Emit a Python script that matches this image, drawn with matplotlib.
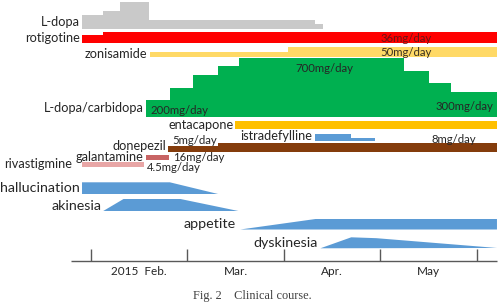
import numpy as np
import matplotlib.pyplot as plt

# time in months counted from 1 Feb 2015
months = ["2015  Feb.", "Mar.", "Apr.", "May"]
month_ticks = [0, 1, 2, 3, 4]
t_end = 4.21

# drugs: segment starts (months), doses per segment
ldopa_t = [-0.09, 0.13, 0.30, 0.60, 2.32, 2.41]
ldopa_dose = [300, 400, 600, 200, 100]

rotig_t = [-0.09, 0.13, t_end]
rotig_dose = [27, 36]

zonis_t = [0.61, 2.04, t_end]
zonis_dose = [25, 50]

ldc_t = [0.57, 0.82, 1.06, 1.32, 1.54, 3.25, 3.51, 3.73, t_end]
ldc_dose = [200, 350, 500, 600, 700, 550, 400, 300]

entac_t = [1.50, t_end]
entac_dose = [200]

istra_t = [2.32, 2.70, 2.95]
istra_dose = [40, 20]

donep_t = [0.80, 1.32, t_end]
donep_dose = [5, 8]

galan_t = [0.57, 0.81]
galan_dose = [16]

rivas_t = [-0.09, 0.55]
rivas_dose = [4.5]

# symptoms: (month, relative severity)
halluc = [(-0.09, 0), (-0.09, 1), (0.82, 1), (1.32, 0)]
akines = [(0.13, 0), (0.34, 1), (0.93, 1), (1.53, 0)]
appet = [(1.55, 0), (2.33, 1), (t_end, 1), (t_end, 0)]
dyskin = [(2.38, 0), (2.70, 1), (2.96, 0.92), (t_end, 0.03)]

FS = 9.2
FS_DOSE = 8.2
FS_SYM = 10.3
TXT = "#262626"
plt.rcParams["font.family"] = ["Lato", "DejaVu Sans"]

fig = plt.figure(figsize=(5.04, 3.05), dpi=100)
ax = fig.add_axes([0, 0, 1, 1])
ax.set_xlim((0 - 90.7) / 96.5, (504 - 90.7) / 96.5)
ax.set_ylim(305, 0)
ax.axis("off")


def steps(t, dose, base, scale, color):
    t = np.asarray(t, dtype=float)
    h = np.asarray(dose, dtype=float) * scale
    ax.bar(t[:-1], -h, width=np.diff(t), bottom=base, align="edge",
           color=color, linewidth=0)


def symptom(pts, base, height):
    xy = [(x, base - s * height) for x, s in pts]
    ax.add_patch(plt.Polygon(xy, closed=True, color="#5B9BD5", lw=0))


def label(x, y, s, size=FS, dx=-2, ha="right", color=TXT):
    ax.annotate(s, (x, y), xytext=(dx, 0), textcoords="offset pixels",
                ha=ha, va="center", fontsize=size, color=color)


steps(ldopa_t, ldopa_dose, 28.8, 0.045, "#C9C9C9")
steps(rotig_t, rotig_dose, 43.3, 0.314, "#FF0000")
steps(zonis_t, zonis_dose, 56.7, 0.2, "#FFD966")
steps(ldc_t, ldc_dose, 117.3, 0.0848, "#00B050")
steps(entac_t, entac_dose, 129.0, 0.038, "#FFC000")
steps(istra_t, istra_dose, 140.7, 0.16, "#5B9BD5")
steps(donep_t, donep_dose, 151.7, 1.1, "#843C0C")
steps(galan_t, galan_dose, 160.0, 0.31, "#C86464")
steps(rivas_t, rivas_dose, 167.3, 1.1, "#E8A6A6")

symptom(halluc, 194.0, 11.7)
symptom(akines, 211.0, 12.0)
symptom(appet, 229.5, 10.5)
symptom(dyskin, 248.3, 11.0)

# row labels
label(ldopa_t[0], 22.3, "L-dopa")
label(rotig_t[0], 38.3, "rotigotine")
label(zonis_t[0], 54.3, "zonisamide")
label(ldc_t[0], 108.5, "L-dopa/carbidopa")
label(entac_t[0], 125.0, "entacapone")
label(istra_t[0], 135.5, "istradefylline")
label(donep_t[0], 146.5, "donepezil")
label(galan_t[0], 157.3, "galantamine")
label(rivas_t[0], 164.3, "rivastigmine", dx=-10)
label(halluc[0][0], 187.7, "hallucination", size=FS_SYM)
label(akines[0][0], 206.0, "akinesia", size=FS_SYM)
label(appet[0][0], 224.0, "appetite", size=FS_SYM, dx=-5)
label(dyskin[0][0], 242.7, "dyskinesia", size=FS_SYM, dx=-3)

# dose annotations
label(3.0, 38.7, "36mg/day", size=FS_DOSE, ha="left", dx=0, color="#6A1515")
label(3.0, 52.3, "50mg/day", size=FS_DOSE, ha="left", dx=0, color="#3A3020")
label(2.12, 68.0, "700mg/day", size=FS_DOSE, ha="left", dx=0)
label(ldc_t[0], 110.0, "200mg/day", size=FS_DOSE, ha="left", dx=5)
label(3.57, 106.0, "300mg/day", size=FS_DOSE, ha="left", dx=0)
label(3.53, 139.3, "8mg/day", size=FS_DOSE, ha="left", dx=0)
label(donep_t[0], 141.0, "5mg/day", size=FS_DOSE, ha="left", dx=4)
label(galan_t[1], 157.3, "16mg/day", size=FS_DOSE, ha="left", dx=4)
label(rivas_t[1], 167.3, "4.5mg/day", size=FS_DOSE, ha="left", dx=3)

# timeline
ax.hlines(261, -0.2, t_end, color="#595959", lw=1.0)
ax.vlines(month_ticks, 249, 261, color="#595959", lw=1.0)
for i, m in enumerate(months):
    ax.text(i + 0.5, 271.7, m, ha="center", va="center", fontsize=FS_DOSE + 0.3, color=TXT)

fig.text(0.5, 1 - 296 / 305, "Fig. 2    Clinical course.", ha="center", va="center",
         fontsize=8.8, color="#404040", family="Liberation Serif")

fig.savefig("out.png", dpi=100)
